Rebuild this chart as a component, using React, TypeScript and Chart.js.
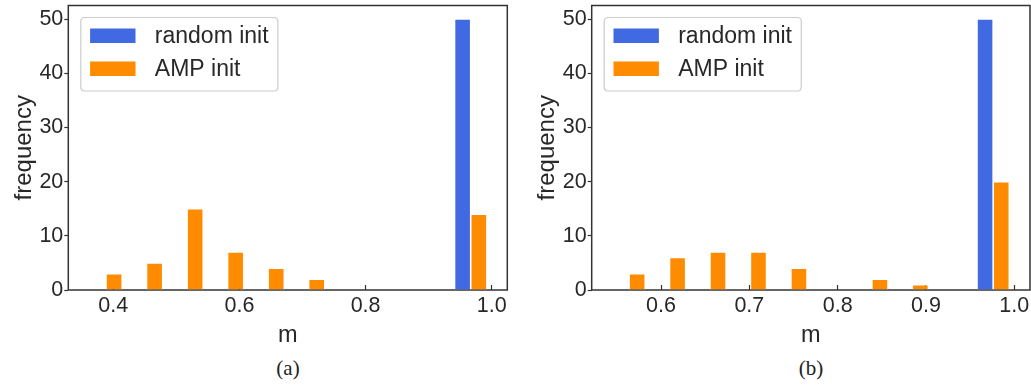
import React, { useEffect, useRef } from "react";
import { Chart, registerables } from "chart.js";

Chart.register(...registerables);

// ---------- data ----------
const seriesLabels = ["random init", "AMP init"];

// panel (a)
const binsA = [0.3885, 0.4527, 0.517, 0.5812, 0.6455, 0.7097, 0.774, 0.8382, 0.9025, 0.9667];
const randomA = [0, 0, 0, 0, 0, 0, 0, 0, 0, 50];
const ampA = [3, 5, 15, 7, 4, 2, 0, 0, 0, 14];
const xTicksA = [0.4, 0.6, 0.8, 1.0];

// panel (b)
const binsB = [0.5638, 0.6096, 0.6554, 0.7012, 0.747, 0.7929, 0.8387, 0.8845, 0.9303, 0.9761];
const randomB = [0, 0, 0, 0, 0, 0, 0, 0, 0, 50];
const ampB = [3, 6, 7, 7, 4, 0, 2, 1, 0, 20];
const xTicksB = [0.6, 0.7, 0.8, 0.9, 1.0];

const yTicks = [0, 10, 20, 30, 40, 50];
const xTitle = "m";
const yTitle = "frequency";
const captions = ["(a)", "(b)"];

// ---------- style ----------
const FONT = "'Liberation Sans', Arial, Helvetica, sans-serif";
const TEXT = "#282828";
const AXIS = "#333333";
const BLUE = "#4169E1";
const ORANGE = "#FF8C00";

const framePlugin = {
  id: "frame",
  beforeDatasetsDraw(chart: any) {
    const { ctx, chartArea } = chart;
    ctx.save();
    ctx.strokeStyle = AXIS;
    ctx.lineWidth = 1.5;
    ctx.strokeRect(chartArea.left, chartArea.top, chartArea.right - chartArea.left, chartArea.bottom - chartArea.top);
    ctx.restore();
  },
};

const legendPlugin = {
  id: "boxLegend",
  afterDatasetsDraw(chart: any) {
    const { ctx, chartArea } = chart;
    const ds = chart.data.datasets;
    ctx.save();
    ctx.font = `23px ${FONT}`;
    const textW = Math.max(...ds.map((d: any) => ctx.measureText(d.label).width));
    const padX = 9.3, patchW = 45.4, patchH = 14.5, gap = 19.3, rowH = 33, padY = 11;
    const x = chartArea.left + 12.5;
    const y = chartArea.top + 12;
    const w = padX + patchW + gap + textW + padX;
    const h = padY * 2 + patchH + rowH * (ds.length - 1) + 4;
    const r = 4;
    ctx.beginPath();
    ctx.moveTo(x + r, y);
    ctx.lineTo(x + w - r, y);
    ctx.quadraticCurveTo(x + w, y, x + w, y + r);
    ctx.lineTo(x + w, y + h - r);
    ctx.quadraticCurveTo(x + w, y + h, x + w - r, y + h);
    ctx.lineTo(x + r, y + h);
    ctx.quadraticCurveTo(x, y + h, x, y + h - r);
    ctx.lineTo(x, y + r);
    ctx.quadraticCurveTo(x, y, x + r, y);
    ctx.closePath();
    ctx.fillStyle = "rgba(255,255,255,0.85)";
    ctx.fill();
    ctx.strokeStyle = "#cccccc";
    ctx.lineWidth = 1.2;
    ctx.stroke();
    ds.forEach((d: any, i: number) => {
      const top = y + padY + i * rowH;
      ctx.fillStyle = d.backgroundColor;
      ctx.fillRect(x + padX, top, patchW, patchH);
      ctx.fillStyle = TEXT;
      ctx.textBaseline = "middle";
      ctx.textAlign = "left";
      ctx.fillText(d.label, x + padX + patchW + gap, top + patchH / 2 + 1);
    });
    ctx.restore();
  },
};

type PanelProps = {
  bins: number[];
  random: number[];
  amp: number[];
  xTicks: number[];
  xMin: number;
  xMax: number;
  left: number;
  width: number;
  padRight: number;
  yAxisWidth: number;
};

function Panel(p: PanelProps) {
  const ref = useRef<HTMLCanvasElement | null>(null);
  useEffect(() => {
    if (!ref.current) return;
    const chart = new Chart(ref.current, {
      type: "bar",
      data: {
        datasets: [
          {
            label: seriesLabels[0],
            data: p.bins.map((b, i) => ({ x: b, y: p.random[i] })),
            backgroundColor: BLUE,
            borderColor: "rgba(255,255,255,0.7)",
            borderWidth: 0.8,
            categoryPercentage: 0.8,
            barPercentage: 1.0,
          },
          {
            label: seriesLabels[1],
            data: p.bins.map((b, i) => ({ x: b, y: p.amp[i] })),
            backgroundColor: ORANGE,
            borderColor: "rgba(255,255,255,0.7)",
            borderWidth: 0.8,
            categoryPercentage: 0.8,
            barPercentage: 1.0,
          },
        ],
      },
      options: {
        animation: false,
        responsive: false,
        maintainAspectRatio: false,
        layout: { padding: { top: 5.5, left: 0, right: p.padRight, bottom: 0 } },
        plugins: { legend: { display: false }, tooltip: { enabled: false } },
        scales: {
          x: {
            type: "linear",
            min: p.xMin,
            max: p.xMax,
            offset: false,
            afterBuildTicks: (s: any) => {
              s.ticks = p.xTicks.map((v) => ({ value: v }));
            },
            afterFit: (s: any) => {
              s.height = 60;
              s.paddingLeft = 0;
              s.paddingRight = 0;
            },
            grid: {
              display: true,
              offset: false,
              drawOnChartArea: false,
              drawTicks: true,
              tickLength: -5,
              tickColor: AXIS,
              tickWidth: 1.2,
            },
            border: { display: false },
            ticks: {
              padding: 8.5,
              color: TEXT,
              font: { family: FONT, size: 21.5 },
              maxRotation: 0,
              autoSkip: false,
              callback: (v: any) => Number(v).toFixed(1),
            },
            title: {
              display: true,
              text: xTitle,
              color: TEXT,
              font: { family: FONT, size: 23.5 },
              padding: { top: 0, bottom: 0 },
            },
          },
          y: {
            type: "linear",
            min: 0,
            max: 52.5,
            afterBuildTicks: (s: any) => {
              s.ticks = yTicks.map((v) => ({ value: v }));
            },
            afterFit: (s: any) => {
              s.width = p.yAxisWidth;
              s.paddingTop = 0;
              s.paddingBottom = 0;
            },
            grid: {
              display: true,
              offset: false,
              drawOnChartArea: false,
              drawTicks: true,
              tickLength: 4,
              tickColor: AXIS,
              tickWidth: 1.2,
            },
            border: { display: false },
            ticks: {
              padding: 1,
              color: TEXT,
              font: { family: FONT, size: 21.5 },
            },
            title: {
              display: true,
              text: yTitle,
              color: TEXT,
              font: { family: FONT, size: 24 },
              padding: { top: 10, bottom: 0 },
            },
          },
        },
      },
      plugins: [framePlugin, legendPlugin],
    } as any);
    return () => chart.destroy();
  }, []);
  return (
    <canvas
      ref={ref}
      width={p.width}
      height={350}
      style={{ position: "absolute", left: p.left, top: 0, width: p.width, height: 350 }}
    />
  );
}

export default function App() {
  const capStyle = (cx: number): React.CSSProperties => ({
    position: "absolute",
    left: cx - 40,
    width: 80,
    top: 355,
    textAlign: "center",
    fontFamily: "'Liberation Serif', 'Times New Roman', serif",
    fontSize: 21,
    color: "#222",
    lineHeight: "26px",
  });
  return (
    <div style={{ position: "absolute", left: 0, top: 0, width: 1031, height: 386, background: "#fff", overflow: "hidden" }}>
      <Panel bins={binsA} random={randomA} amp={ampA} xTicks={xTicksA} xMin={0.3287} xMax={1.0247} left={0} width={515} padRight={7.7} yAxisWidth={68.3} />
      <Panel bins={binsB} random={randomB} amp={ampB} xTicks={xTicksB} xMin={0.5215} xMax={1.0178} left={523} width={508} padRight={1} yAxisWidth={68.7} />
      <div style={capStyle(288)}>{captions[0]}</div>
      <div style={capStyle(811)}>{captions[1]}</div>
    </div>
  );
}
